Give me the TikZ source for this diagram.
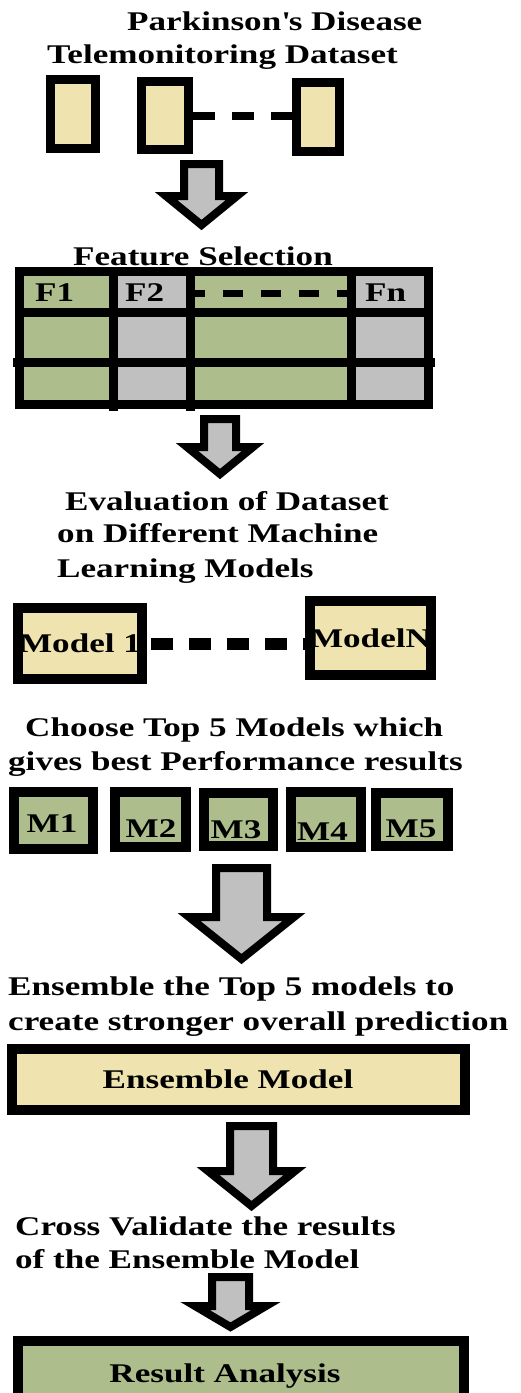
\documentclass[tikz,border=0pt]{standalone}
\usepackage{fontspec}
\setmainfont[FakeStretch=1.3]{Liberation Serif}
\definecolor{boxbeige}{RGB}{239,228,176}
\definecolor{boxgreen}{RGB}{173,190,140}
\definecolor{arrowgray}{RGB}{192,192,192}

\begin{document}
\begin{tikzpicture}[x=1pt, y=-1pt,
    every node/.style={font=\fontsize{27}{34}\selectfont\bfseries, inner sep=0pt},
    caption/.style={anchor=base west},
    box/.style={draw, line width=9pt, fill=#1},
    gap/.style={line width=8pt, dash pattern=on 22pt off 17pt},
    blockarrow/.style={draw, line width=8pt, fill=arrowgray}]

    \useasboundingbox (0,0) rectangle (521,1393);
    \clip (0,0) rectangle (521,1393);

    % Dataset
    \node [caption] (cap1a) at (127,30) {Parkinson\textquotesingle s Disease};
    \node [caption] (cap1b) at (47,63) {Telemonitoring Dataset};
    \node [box=boxbeige, minimum width=45pt, minimum height=69pt] (d1) at (73,114) {};
    \node [box=boxbeige, minimum width=47pt, minimum height=68pt] (d2) at (165,115.5) {};
    \node [box=boxbeige, minimum width=43pt, minimum height=69pt] (d3) at (318,117) {};
    \draw [gap] (d2.east) -- (d2.east -| d3.west);

    % Feature selection
    \node [caption] (cap2) at (73,265) {Feature Selection};
    \fill [boxgreen] (19.5,271.5) rectangle (113,404.5);
    \fill [arrowgray] (113,271.5) rectangle (190,404.5);
    \fill [boxgreen] (190,271.5) rectangle (351.5,404.5);
    \fill [arrowgray] (351.5,271.5) rectangle (428.5,404.5);
    \node [draw, line width=9.5pt, minimum width=409pt, minimum height=133pt] (fs) at (224,338) {};
    \draw [line width=9pt] (113,271.5) -- (113,411);
    \draw [line width=9pt] (190,271.5) -- (190,411);
    \draw [line width=9pt] (351.5,271.5) -- (351.5,404.5);
    \draw [line width=9pt] (19.5,312.5) -- (428.5,312.5);
    \draw [line width=9pt] (13,362.5) -- (435,362.5);
    \node [caption] (f1) at (35,301) {F1};
    \node [caption] (f2) at (125,301) {F2};
    \node [caption] (fn) at (365,301) {Fn};
    \draw [line width=7pt, dash pattern=on 20pt off 18pt, dash phase=5pt]
          (190,293) -- (351.5,293);

    % Machine learning models
    \node [caption] (cap3a) at (65,510) {Evaluation of Dataset};
    \node [caption] (cap3b) at (57,542) {on Different Machine};
    \node [caption] (cap3c) at (57,577) {Learning Models};
    \node [box=boxbeige, line width=10pt, minimum width=124pt, minimum height=71pt]
          (m1) at (80,643.5) {Model 1};
    \node [box=boxbeige, line width=10pt, minimum width=119pt, minimum height=74pt]
          (mn) at (370.5,638) {ModelN};
    \draw [gap, line width=12pt, dash pattern=on 22pt off 16pt, dash phase=34pt]
          (m1.east) -- (m1.east -| mn.west);

    % Top 5 models
    \node [caption] (cap4a) at (25,736) {Choose Top 5 Models which};
    \node [caption] (cap4b) at (8,770) {gives best Performance results};
    \foreach \n/\x/\y/\w/\h/\tx/\ty in {1/53.5/820.5/79/57/52/832, 2/150.5/819.5/71/55/151/837,
        3/238.5/819.5/69/53/236/838, 4/326/819.5/70/55/322.5/840, 5/412/819.5/72/53/411/837} {
      \node [box=boxgreen, line width=10pt, minimum width=\w pt, minimum height=\h pt]
            (top\n) at (\x,\y) {};
      \node [anchor=base] (ltop\n) at (\tx,\ty) {M\n};
    }

    % Ensemble
    \node [caption] (cap5a) at (8,995) {Ensemble the Top 5 models to};
    \node [caption] (cap5b) at (8,1030) {create stronger overall prediction};
    \node [box=boxbeige, line width=10pt, minimum width=453pt, minimum height=61pt]
          (ens) at (238.5,1079.5) {Ensemble Model\hspace*{21pt}};

    % Cross validation
    \node [caption] (cap6a) at (15,1235) {Cross Validate the results};
    \node [caption] (cap6b) at (15,1268) {of the Ensemble Model};
    \node [box=boxgreen, line width=10pt, minimum width=446pt, minimum height=71pt]
          (res) at (241,1376.5) {Result Analysis\hspace*{32pt}};

    % Arrows
    \foreach \n/\cx/\yt/\sh/\yh/\hh/\yp in {1/201.5/164/17.5/196/35.5/225, 2/220/419/16/447/33/474,
        3/241.5/868/25.5/917/52.5/959, 4/251.5/1126/21.5/1171/43.5/1206, 5/230.5/1277/18.5/1306/35.5/1327} {
      \coordinate (arr\n) at (\cx,\yt);
      \draw [blockarrow] (\cx-\sh,\yt) -- (\cx+\sh,\yt) -- (\cx+\sh,\yh) -- (\cx+\hh,\yh)
            -- (\cx,\yp) -- (\cx-\hh,\yh) -- (\cx-\sh,\yh) -- cycle;
    }
\end{tikzpicture}
\end{document}
